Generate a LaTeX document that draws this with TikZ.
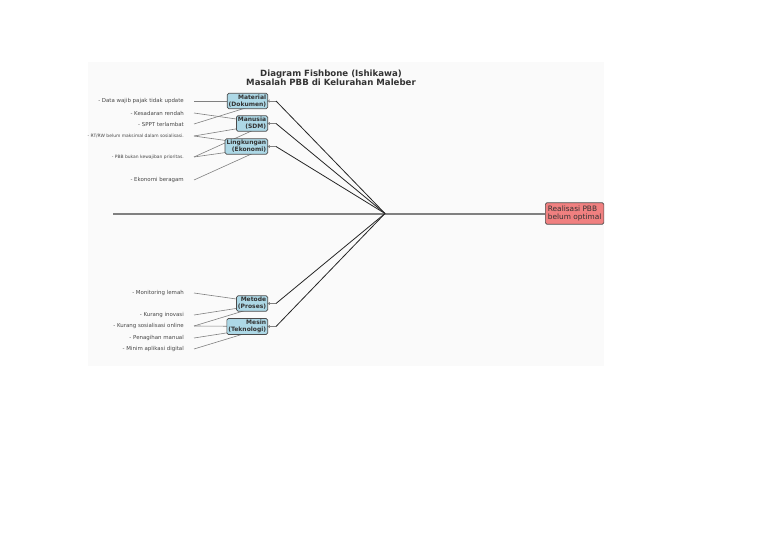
\documentclass[tikz,border=0pt]{standalone}
\usepackage{fontspec}
\setmainfont{DejaVu Sans}
\usepackage{xcolor}
\usetikzlibrary{arrows.meta}

\definecolor{boxblue}{HTML}{ADD8E6}
\definecolor{boxred}{HTML}{F08080}
\definecolor{ink}{HTML}{333333}
\definecolor{paper}{HTML}{FAFAFA}

\pgfdeclarelayer{bg}
\pgfsetlayers{bg,main}

\begin{document}
\begin{tikzpicture}[x=1pt,y=-1pt,
  cause/.style={anchor=east, inner xsep=10pt, inner ysep=0pt, text=ink!90,
    font=\fontsize{5.45}{6.5}\selectfont},
  tinycause/.style={cause, font=\fontsize{4.45}{5}\selectfont},
  category/.style={anchor=east, draw=black!70, fill=boxblue, rounded corners=1.5pt,
    line width=0.7pt, align=right, inner xsep=1.5pt, inner ysep=1.5pt, text=ink,
    font=\fontsize{6}{7}\selectfont\bfseries},
  effect/.style={anchor=west, draw=black!70, fill=boxred, rounded corners=1.5pt,
    line width=0.7pt, align=left, inner xsep=2.5pt, inner ysep=2.8pt, text=ink,
    font=\fontsize{7.4}{8.6}\selectfont},
  twig/.style={draw=gray, line width=0.6pt},
  bone/.style={draw=black!85, line width=0.8pt},
  stub/.style={draw=gray, line width=0.7pt, {To[length=2pt,width=3pt]}-},
  spine/.style={draw=gray, line width=2pt}]
\useasboundingbox (0,0) rectangle (768,543);

% title
\node[align=center, text=ink, font=\fontsize{8.6}{9.4}\selectfont\bfseries] (title) at (331,77.5)
  {Diagram Fishbone (Ishikawa)\\Masalah PBB di Kelurahan Maleber};

% head and spine
\node[effect] (effect) at (545,213.5) {Realisasi PBB\\belum optimal};
\coordinate (tail) at (113,213.5);
\coordinate (hub) at (385,213.5);
\draw[spine] (tail) -- (effect.west);

% categories
\node[category] (material) at (268,101) {Material\\(Dokumen)};
\node[category] (manusia) at (268,123.5) {Manusia\\(SDM)};
\node[category] (lingkungan) at (268,146.5) {Lingkungan\\(Ekonomi)};
\node[category] (metode) at (268,303.5) {Metode\\(Proses)};
\node[category] (mesin) at (268,326.5) {Mesin\\(Teknologi)};

\foreach \c in {material,manusia,lingkungan,metode,mesin} {
  \draw[stub] (\c.east) -- ++(8,0) coordinate (\c-j);
  \draw[bone] (\c-j) -- (hub);
}

% causes
\node[cause] (data) at (194,101) {- Data wajib pajak tidak update};
\node[cause] (kesadaran) at (194,113) {- Kesadaran rendah};
\node[cause] (sppt) at (194,124) {- SPPT terlambat};
\node[tinycause] (rtrw) at (194,136) {- RT/RW belum maksimal dalam sosialisasi.};
\node[tinycause] (pbb) at (194,157) {- PBB bukan kewajiban prioritas.};
\node[cause] (ekonomi) at (194,180) {- Ekonomi beragam};
\node[cause] (monitoring) at (194,293) {- Monitoring lemah};
\node[cause] (inovasi) at (194,315) {- Kurang inovasi};
\node[cause] (online) at (194,326) {- Kurang sosialisasi online};
\node[cause] (penagihan) at (194,338) {- Penagihan manual};
\node[cause] (minim) at (194,349) {- Minim aplikasi digital};

\begin{pgfonlayer}{bg}
  \fill[paper] (88,62) rectangle (604,366);
  \foreach \a/\b in {data/material, kesadaran/manusia, sppt/material, rtrw/manusia,
      rtrw/lingkungan, pbb/lingkungan, pbb/manusia, ekonomi/lingkungan,
      monitoring/metode, inovasi/metode, online/mesin, online/metode,
      penagihan/mesin, minim/mesin}
    \draw[twig] (\a.east) -- (\b.east);
\end{pgfonlayer}
\end{tikzpicture}
\end{document}
